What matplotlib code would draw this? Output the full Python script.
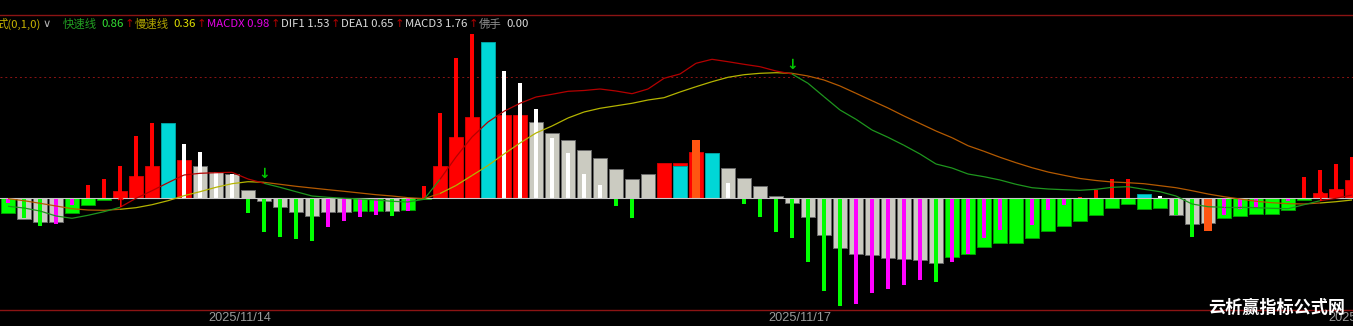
import numpy as np
import matplotlib.pyplot as plt
from matplotlib.collections import LineCollection

plt.rcParams['font.family'] = ['Noto Sans CJK SC', 'DejaVu Sans']

# ---- values (one bar per slot) ----
# wide histogram bars
wide = [-0.15, -0.207, -0.237, -0.237, -0.15, -0.067, -0.023, 0.067, 0.223, 0.323,
        0.75, 0.383, 0.323, 0.26, 0.245, 0.083, -0.033, -0.087, -0.135, -0.175,
        -0.142, -0.135, -0.125, -0.125, -0.133, -0.12, -0.013, 0.32, 0.613, 0.813,
        1.56, 0.833, 0.833, 0.76, 0.653, 0.58, 0.48, 0.40, 0.287, 0.187,
        0.237, 0.353, 0.347, 0.46, 0.453, 0.297, 0.197, 0.117, 0.023, -0.05,
        -0.19, -0.37, -0.497, -0.557, -0.57, -0.597, -0.61, -0.617, -0.65, -0.59,
        -0.563, -0.49, -0.45, -0.45, -0.403, -0.327, -0.283, -0.23, -0.17, -0.097,
        -0.063, -0.113, -0.097, -0.173, -0.263, -0.253, -0.203, -0.18, -0.163, -0.163,
        -0.123, -0.017, 0.047, 0.093, 0.18]
wide_kind = ('g s s s g g g r r r  c r s s s s s s s s  s s g g s g g r r r  '
             'c r r s s s s s s s  s r r r c s s s s s  s s s s s s s s s g  '
             'g g g g g g g g g g  g g g s s s g g g g  g g r r r').split()

# thin bars drawn inside the wide ones (nan = none)
nan = np.nan
thin = [-0.05, -0.20, -0.28, -0.26, -0.067, 0.133, 0.193, 0.323, 0.617, 0.75,
        nan, 0.54, 0.463, 0.26, 0.245, -0.145, -0.342, -0.385, -0.407, -0.427,
        -0.285, -0.227, -0.185, -0.167, -0.183, -0.133, 0.123, 0.853, 1.40, 1.64,
        nan, 1.267, 1.147, 0.893, 0.60, 0.447, 0.24, 0.127, -0.077, -0.20,
        -0.01, -0.01, nan, nan, nan, 0.147, -0.063, -0.187, -0.337, -0.403,
        -0.637, -0.927, -1.08, -1.06, -0.953, -0.907, -0.87, -0.817, -0.843, -0.643,
        -0.56, -0.397, -0.317, nan, -0.27, -0.123, -0.07, 0.01, 0.08, 0.187,
        0.193, nan, 0.02, -0.173, -0.387, nan, -0.173, -0.113, -0.103, nan,
        -0.03, 0.207, 0.28, 0.337, 0.407]
thin_kind = ('m g g m m r r r r r  - w w w w g g g g g  m m m m g m r r r r  '
             '- w w w w w w w g g  o r - - - w g g g g  g g g m m m m m g m  '
             'm m m - m m m r r r  r - w g g - m m m -  m r r r r').split()

# extra wide cyan bars over the main one, and narrower orange bars
cover_at = [42, 71]
cover_val = [0.323, 0.037]
orange_at = [43, 75]
orange_val = [0.58, -0.327]

dif = [-0.083, -0.10, -0.13, -0.18, -0.203, -0.173, -0.137, -0.093, -0.003, 0.073,
       0.153, 0.23, 0.247, 0.253, 0.257, 0.19, 0.147, 0.107, 0.063, 0.02,
       0.007, -0.003, -0.01, -0.02, -0.033, -0.04, -0.013, 0.187, 0.41, 0.61,
       0.76, 0.867, 0.947, 1.01, 1.037, 1.067, 1.075, 1.09, 1.07, 1.043,
       1.09, 1.197, 1.24, 1.347, 1.387, 1.363, 1.337, 1.313, 1.27, 1.24,
       1.147, 1.013, 0.88, 0.787, 0.68, 0.607, 0.527, 0.44, 0.34, 0.30,
       0.24, 0.213, 0.18, 0.137, 0.103, 0.09, 0.083, 0.077, 0.087, 0.107,
       0.113, 0.087, 0.063, 0.02, -0.06, -0.087, -0.093, -0.093, -0.097, -0.103,
       -0.107, -0.067, -0.027, -0.003, 0.03]
dea = [-0.007, -0.027, -0.053, -0.08, -0.107, -0.12, -0.123, -0.113, -0.097, -0.067,
       -0.027, 0.023, 0.063, 0.107, 0.143, 0.163, 0.157, 0.137, 0.117, 0.10,
       0.083, 0.067, 0.05, 0.033, 0.02, 0.003, -0.007, 0.045, 0.125, 0.225,
       0.325, 0.44, 0.55, 0.65, 0.72, 0.80, 0.86, 0.897, 0.922, 0.947,
       0.98, 1.003, 1.06, 1.113, 1.163, 1.207, 1.233, 1.247, 1.253, 1.247,
       1.22, 1.18, 1.12, 1.047, 0.973, 0.90, 0.82, 0.745, 0.67, 0.603,
       0.523, 0.467, 0.407, 0.353, 0.303, 0.26, 0.227, 0.195, 0.175, 0.16,
       0.153, 0.143, 0.123, 0.103, 0.073, 0.04, 0.013, -0.01, -0.033, -0.047,
       -0.057, -0.06, -0.05, -0.037, -0.02]

date_pos = [12.5, 47.5, 82.5]
date_labels = ['2025/11/14', '2025/11/17', '2025/11/18']

header = [('式(0,1,0)', '#C8B400', 2), ('∨', '#B4B4B4', 11),
          ('快速线', '#22A022', 5), ('0.86', '#33E033', 1), ('↑', '#B00000', 0),
          ('慢速线', '#B0A400', 5), ('0.36', '#E0E000', 1), ('↑', '#B00000', 1),
          ('MACDX 0.98', '#E600E6', 1), ('↑', '#B00000', 1),
          ('DIF1 1.53', '#DCDCDC', 1), ('↑', '#B00000', 1),
          ('DEA1 0.65', '#DCDCDC', 1), ('↑', '#B00000', 1),
          ('MACD3 1.76', '#DCDCDC', 1), ('↑', '#B00000', 1),
          ('佛手', '#8C8C8C', 5), ('0.00', '#DCDCDC', 0)]

# ---- styles ----
fill = {'g': '#00FF00', 's': '#CBCBC1', 'r': '#FF0000', 'c': '#00D7D7',
        'w': '#FFFFFF', 'm': '#FF00FF', 'o': '#FF5511'}
edge = {'g': '#00A000', 's': '#6A6A6A', 'r': '#D00000', 'c': '#00A0A0'}

W, H = 1353, 326
fig = plt.figure(figsize=(W / 100, H / 100), dpi=100)
fig.patch.set_facecolor('black')
ax = fig.add_axes([0, 0, 1, 1])
ax.set_facecolor('black')
ax.set_axis_off()
ax.set_xlim(-0.5, 84.0625)
ax.set_ylim(-1.28, 1.98)

x = np.arange(len(wide))

ax.bar(x, wide, width=0.875, color=[fill[k] for k in wide_kind],
       edgecolor=[edge[k] for k in wide_kind], linewidth=0.7, zorder=2)
ax.bar(cover_at, cover_val, width=0.875, color=fill['c'], edgecolor=edge['c'],
       linewidth=0.7, zorder=3)
ax.bar(orange_at, orange_val, width=0.55, color=fill['o'], zorder=4)
ax.bar(x, np.nan_to_num(thin), width=0.28,
       color=[fill.get(k, 'none') for k in thin_kind], linewidth=0, zorder=4)

# frame, zero and level lines
ax.axhline(0, color='#C8C8C8', lw=0.8, zorder=5)
ax.axhline(1.83, color='#8B1414', lw=1.0, zorder=1)
ax.axhline(-1.12, color='#8B1414', lw=1.0, zorder=1)
ax.axhline(1.21, color='#8B1414', lw=0.7, ls=(0, (2, 3)), zorder=1)

# DIF / DEA lines, coloured by which one is on top
dif = np.array(dif)
dea = np.array(dea)
above = dif > dea
seg_dif = [[(i, dif[i]), (i + 1, dif[i + 1])] for i in range(len(x) - 1)]
seg_dea = [[(i, dea[i]), (i + 1, dea[i + 1])] for i in range(len(x) - 1)]
ax.add_collection(LineCollection(seg_dea, colors=['#B4B400' if a else '#B45A00' for a in above[:-1]],
                                 linewidths=0.9, zorder=6))
ax.add_collection(LineCollection(seg_dif, colors=['#B40000' if a else '#1E961E' for a in above[:-1]],
                                 linewidths=0.9, zorder=6))

# cross signals
for i in range(1, len(x)):
    if above[i] and not above[i - 1]:
        ax.text(i, dea[i] + 0.06, '↑', color='#FF0000', fontsize=10, fontweight='bold',
                family=['DejaVu Sans'], ha='center', va='center', zorder=7)
    elif above[i - 1] and not above[i]:
        ax.text(i, dea[i] + 0.08, '↓', color='#00C800', fontsize=10, fontweight='bold',
                family=['DejaVu Sans'], ha='center', va='center', zorder=7)

# date labels
for p, lab in zip(date_pos, date_labels):
    ax.text(p, -1.2, lab, color='#9A9A9A', fontsize=9.2, family=['Liberation Sans', 'DejaVu Sans'],
            ha='left', va='center', zorder=8)

# watermark
fig.text(1 - 8 / W, 1 - 308 / H, '云析赢指标公式网', color='white', fontsize=12.3,
         fontweight='bold', ha='right', va='center')

# header line
fig.canvas.draw()
r = fig.canvas.get_renderer()
px = -3.5
for txt, col, gap in header:
    fam = ['DejaVu Sans'] if txt in ('↑', '∨') else ['Noto Sans CJK SC', 'DejaVu Sans']
    t = fig.text(px / W, 1 - 24 / H, txt, color=col, fontsize=8.2, family=fam,
                 ha='left', va='center')
    px += t.get_window_extent(r).width + gap

fig.savefig('out.png', dpi=100, facecolor='black')
